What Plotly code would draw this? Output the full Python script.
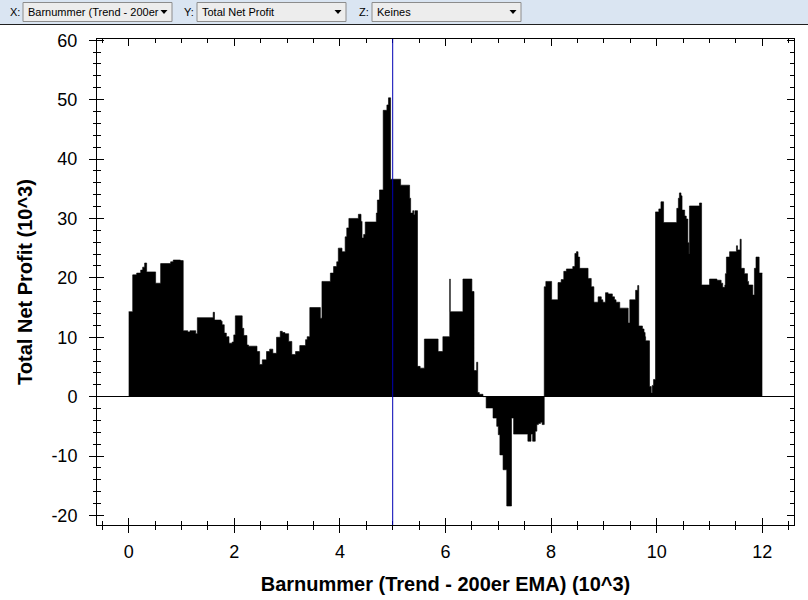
import plotly.graph_objects as go

# ---- data (values in 10^3) ----
bar_start = [
    0.000, 0.076, 0.151, 0.227, 0.265, 0.302, 0.340, 0.510, 0.605, 0.794, 0.844, 0.980,
    1.033, 1.120, 1.160, 1.270, 1.300, 1.600, 1.625, 1.750, 1.770, 1.810, 1.850, 1.900,
    1.960, 1.990, 2.020, 2.150, 2.180, 2.240, 2.270, 2.430, 2.480, 2.530, 2.610, 2.670,
    2.730, 2.800, 2.870, 2.910, 2.960, 3.030, 3.090, 3.160, 3.240, 3.350, 3.380, 3.430,
    3.630, 3.660, 3.820, 3.880, 3.940, 3.970, 4.040, 4.100, 4.130, 4.170, 4.350, 4.400,
    4.420, 4.450, 4.480, 4.690, 4.710, 4.750, 4.820, 4.890, 4.920, 4.960, 5.150, 5.320,
    5.340, 5.380, 5.400, 5.420, 5.470, 5.520, 5.600, 5.860, 5.950, 6.080, 6.090, 6.330,
    6.500, 6.540, 6.590, 6.610, 6.640, 6.710, 6.770, 6.900, 6.970, 7.000, 7.030, 7.090,
    7.160, 7.250, 7.290, 7.560, 7.620, 7.650, 7.700, 7.730, 7.760, 7.800, 7.830, 7.870,
    7.900, 8.010, 8.130, 8.190, 8.240, 8.290, 8.410, 8.450, 8.480, 8.510, 8.540, 8.700,
    8.760, 8.810, 8.890, 8.950, 8.980, 9.030, 9.080, 9.160, 9.200, 9.230, 9.300, 9.460,
    9.490, 9.600, 9.640, 9.660, 9.730, 9.760, 9.780, 9.790, 9.864, 9.896, 9.915, 9.940,
    9.977, 10.040, 10.080, 10.130, 10.380, 10.410, 10.430, 10.460, 10.480, 10.530, 10.560, 10.590,
    10.610, 10.620, 10.810, 10.850, 11.000, 11.140, 11.220, 11.250, 11.290, 11.300, 11.320, 11.380,
    11.510, 11.530, 11.580, 11.600, 11.660, 11.720, 11.740, 11.820, 11.850, 11.880, 11.940,
]
net_profit = [
    14.3, 20.5, 20.8, 21.3, 21.8, 22.5, 21.0, 19.1, 22.4, 22.7, 23.0, 22.9,
    11.1, 10.9, 11.1, 10.6, 13.3, 14.2, 12.9, 12.7, 12.1, 10.7, 10.1, 9.0,
    9.2, 10.4, 13.6, 11.5, 10.3, 8.7, 8.5, 7.6, 5.4, 6.2, 7.6, 8.0,
    7.3, 10.0, 11.0, 10.8, 10.6, 9.3, 7.1, 7.6, 8.6, 9.6, 10.1, 15.0,
    13.2, 19.4, 20.8, 21.9, 22.7, 25.0, 24.4, 26.9, 28.4, 30.0, 30.7, 29.5,
    26.7, 27.3, 29.4, 30.9, 33.1, 34.8, 48.2, 49.1, 50.3, 36.6, 35.6, 33.4,
    30.9, 31.3, 30.6, 31.3, 5.1, 4.8, 9.7, 7.6, 10.1, 19.8, 14.3, 19.8,
    17.7, 4.4, 5.8, 0.7, 0.4, 0.0, -1.9, -3.6, -5.0, -6.4, -9.8, -12.3,
    -18.4, -3.6, -6.3, -7.5, -6.3, -7.5, -5.8, -4.7, -4.5, -4.3, -4.7, 18.5,
    19.4, 16.3, 19.2, 19.7, 21.1, 21.5, 21.9, 24.1, 24.4, 23.5, 21.6, 19.9,
    18.5, 15.9, 16.8, 16.3, 15.9, 17.5, 17.3, 16.8, 16.3, 15.9, 14.9, 12.4,
    16.3, 17.9, 18.7, 11.9, 11.4, 10.8, 10.1, 9.4, 1.7, 0.6, 1.9, 2.9,
    31.1, 31.6, 32.8, 29.3, 31.7, 33.4, 34.3, 33.8, 31.4, 30.4, 29.9, 25.9,
    24.0, 32.1, 32.6, 18.8, 19.8, 19.6, 19.1, 18.4, 18.8, 20.7, 23.5, 24.4,
    25.4, 24.7, 26.5, 21.6, 20.7, 19.4, 18.8, 17.1, 21.6, 23.5, 20.8,
]
bar_end = 12.0
cursor_x = 5.0

x_title = "Barnummer (Trend - 200er EMA) (10^3)"
y_title = "Total Net Profit (10^3)"
x_ticks = [0, 2, 4, 6, 8, 10, 12]
x_tick_text = ["0", "2", "4", "6", "8", "10", "12"]
y_ticks = [-20, -10, 0, 10, 20, 30, 40, 50, 60]
y_tick_text = ["-20", "-10", "0", "10", "20", "30", "40", "50", "60"]
x_range = [-0.6, 12.6]
y_range = [-21.6, 60.2]

toolbar_labels = ["X:", "Y:", "Z:"]
toolbar_values = ["Barnummer (Trend - 200er", "Total Net Profit", "Keines"]

# ---- figure geometry (pixels) ----
W, H = 808, 600
L, R, T, B = 97, 794, 39, 525
PW, PH = R - L, B - T

def px(xp):
    return (xp - L) / PW

def py(yp):
    return (B - yp) / PH

FONT = "Liberation Sans, Arial, sans-serif"

fig = go.Figure()
fig.add_trace(go.Scatter(
    x=bar_start + [bar_end], y=net_profit + [net_profit[-1]],
    mode="lines", line=dict(shape="hv", color="black", width=0.6),
    fill="tozeroy", fillcolor="black", showlegend=False, hoverinfo="skip",
))
# overlay axes carry the outside tick part, labels and titles
fig.add_trace(go.Scatter(x=[None], y=[None], xaxis="x2", yaxis="y2",
                         showlegend=False, hoverinfo="skip"))

common_in = dict(showgrid=False, showline=True, linecolor="black", linewidth=1,
                 mirror="ticks", ticks="inside", tickcolor="black", ticklen=7,
                 showticklabels=False, automargin=False)
fig.update_layout(
    width=W, height=H,
    margin=dict(l=L, r=W - R, t=T, b=H - B, pad=0, autoexpand=False),
    paper_bgcolor="white", plot_bgcolor="white",
    font=dict(family=FONT, color="black"),
    xaxis=dict(range=x_range, tickvals=x_ticks, zeroline=False,
               minor=dict(dtick=0.5, tick0=0, ticks="inside", ticklen=4, tickcolor="black"),
               **common_in),
    yaxis=dict(range=y_range, tickvals=y_ticks, zeroline=True, zerolinecolor="black",
               zerolinewidth=1,
               minor=dict(dtick=2, tick0=0, ticks="inside", ticklen=4, tickcolor="black"),
               **common_in),
    xaxis2=dict(range=x_range, tickvals=x_ticks, ticktext=x_tick_text,
                overlaying="x", anchor="y2", side="bottom", automargin=False,
                showgrid=False, zeroline=False, showline=False,
                ticks="outside", ticklen=7, tickcolor="black",
                minor=dict(dtick=0.5, tick0=0, ticks="outside", ticklen=4, tickcolor="black"),
                tickfont=dict(size=18, family=FONT), ticklabelstandoff=3,
                title=dict(text="<b>" + x_title + "</b>", font=dict(size=20, family=FONT),
                           standoff=16)),
    yaxis2=dict(range=y_range, tickvals=y_ticks, ticktext=y_tick_text,
                overlaying="y", anchor="x2", side="left", automargin=False,
                showgrid=False, zeroline=False, showline=False,
                ticks="outside", ticklen=7, tickcolor="black",
                minor=dict(dtick=2, tick0=0, ticks="outside", ticklen=3, tickcolor="black"),
                tickfont=dict(size=18, family=FONT), ticklabelstandoff=8,
                title=dict(text="<b>" + y_title + "</b>", font=dict(size=20, family=FONT),
                           standoff=13)),
)

shapes = []
# cursor line
shapes.append(dict(type="line", xref="x", yref="paper", x0=cursor_x, x1=cursor_x, y0=0, y1=1,
                   line=dict(color="#0000b4", width=1), layer="above"))
# toolbar background
shapes.append(dict(type="rect", xref="paper", yref="paper", x0=px(0), x1=px(W), y0=py(24),
                   y1=py(0), fillcolor="#dae5f2", line=dict(width=0), layer="above"))
shapes.append(dict(type="line", xref="paper", yref="paper", x0=px(0), x1=px(W), y0=py(24.5),
                   y1=py(24.5), line=dict(color="#202020", width=1), layer="above"))

annotations = []
boxes = [(23, 172), (197, 346), (372, 521)]
label_x = [15, 189, 364]
for (bx0, bx1), lx, lab, val in zip(boxes, label_x, toolbar_labels, toolbar_values):
    shapes.append(dict(type="rect", xref="paper", yref="paper", x0=px(bx0), x1=px(bx1),
                       y0=py(21.5), y1=py(2.5), fillcolor="#ededed",
                       line=dict(color="#8c8c8c", width=1), layer="above"))
    ax = bx1 - 8
    shapes.append(dict(type="path", xref="paper", yref="paper",
                       path=f"M {px(ax-3.5)} {py(10)} L {px(ax+3.5)} {py(10)} L {px(ax)} {py(14)} Z",
                       fillcolor="black", line=dict(width=0), layer="above"))
    annotations.append(dict(text=lab, xref="paper", yref="paper", x=px(lx), y=py(12),
                            xanchor="center", yanchor="middle", showarrow=False,
                            font=dict(size=11, family=FONT, color="black")))
    annotations.append(dict(text=val, xref="paper", yref="paper", x=px(bx0 + 3), y=py(12),
                            xanchor="left", yanchor="middle", showarrow=False,
                            font=dict(size=11, family=FONT, color="black")))

fig.update_layout(shapes=shapes, annotations=annotations)
fig.write_html("out.html", config={"displayModeBar": False},
               post_script="document.body.style.margin='0';document.body.style.overflow='hidden';")
